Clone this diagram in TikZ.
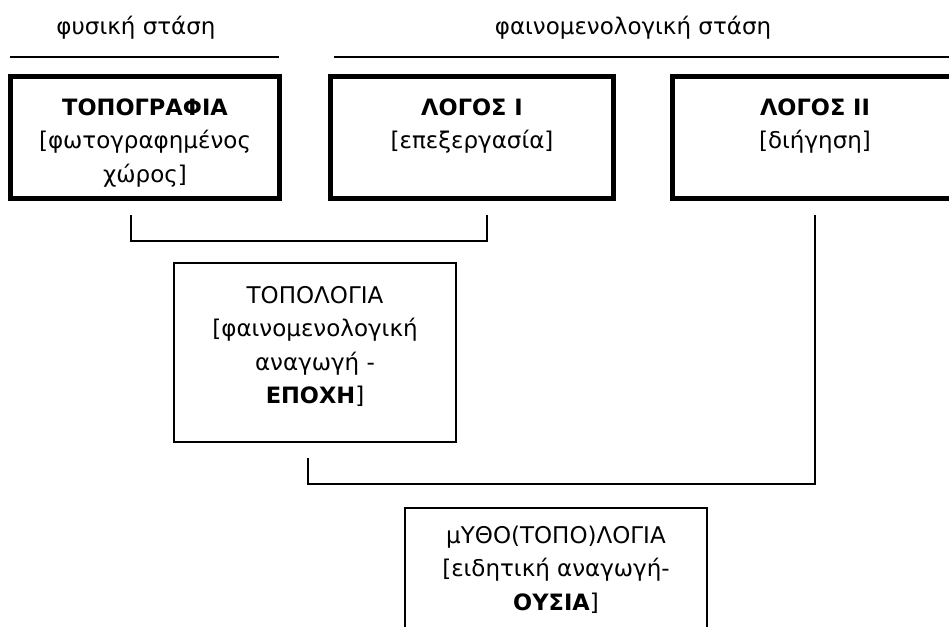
\documentclass[tikz,border=0pt]{standalone}
\usepackage{fontspec}
\setmainfont{DejaVu Sans}
\newcommand{\bt}[1]{{\fontsize{22.5}{33.5}\selectfont\bfseries #1}}
\begin{document}
\begin{tikzpicture}[x=1pt,y=-1pt,
  thickbox/.style={draw=black, line width=5pt, rectangle, outer sep=0pt, inner sep=0pt},
  thinbox/.style={draw=black, line width=1.4pt, rectangle, outer sep=0pt, inner sep=0pt},
  txt/.style={align=center, inner sep=0pt, anchor=base, font=\fontsize{23}{33.5}\selectfont},
  rule/.style={line width=2.2pt},
  conn/.style={line width=1.4pt}]
\useasboundingbox (0,0) rectangle (949,626);
\clip (0,0) rectangle (949,626);

% headings
\node[txt] (h1) at (136,35) {φυσική στάση};
\node[txt] (h2) at (633,35) {φαινομενολογική στάση};
\coordinate (r1a) at (10,57);  \coordinate (r1b) at (279,57);
\coordinate (r2a) at (334,57); \coordinate (r2b) at (960,57);
\draw[rule] (r1a) -- (r1b);
\draw[rule] (r2a) -- (r2b);

% top boxes
\node[thickbox, minimum width=269pt, minimum height=122pt] (A) at (145,137.5) {};
\node[thickbox, minimum width=283pt, minimum height=122pt] (B) at (472,137.5) {};
\node[thickbox, minimum width=285pt, minimum height=122pt] (C) at (815,137.5) {};
% anchor=base is the baseline of the last line
\node[txt] (At) at (145,182) {\bt{ΤΟΠΟΓΡΑΦΙΑ}\\{[}φωτογραφημένος\\χώρος]};
\node[txt] (Bt) at (472,148.5) {\bt{ΛΟΓΟΣ Ι}\\{[}επεξεργασία]};
\node[txt] (Ct) at (815,148.5) {\bt{ΛΟΓΟΣ ΙΙ}\\{[}διήγηση]};

% middle box
\node[thinbox, minimum width=282pt, minimum height=179pt] (D) at (315,352.5) {};
\node[txt] (Dt) at (315,403.5) {ΤΟΠΟΛΟΓΙΑ\\{[}φαινομενολογική\\αναγωγή -\\\bt{ΕΠΟΧΗ}]};

% bottom box
\node[thinbox, minimum width=302pt, minimum height=160pt] (E) at (556,588) {};
\node[txt] (Et) at (556,610) {μΥΘΟ(ΤΟΠΟ)ΛΟΓΙΑ\\{[}ειδητική αναγωγή-\\\bt{ΟΥΣΙΑ}]};

% connectors
\coordinate (b1a) at (131,215); \coordinate (b1b) at (487,215);
\draw[conn] (b1a) -- ++(0,26) -| (b1b);
\coordinate (b2a) at (308,458); \coordinate (b2b) at (815,215);
\draw[conn] (b2a) -- ++(0,26) -| (b2b);
\end{tikzpicture}
\end{document}
